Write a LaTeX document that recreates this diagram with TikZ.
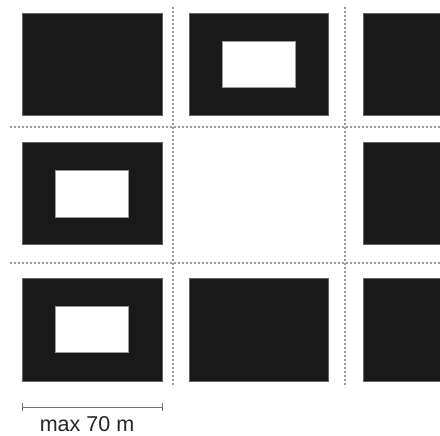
\documentclass[tikz,border=0pt]{standalone}
\usepackage{fontspec}
\setmainfont{Liberation Sans}
\begin{document}
\begin{tikzpicture}[x=1pt,y=-1pt,
  block/.style={draw=black!60,line width=0.4pt,fill=black!90,inner sep=0pt,anchor=north west},
  hole/.style={draw=black!40,line width=0.4pt,fill=white,inner sep=0pt,anchor=north west},
  grid/.style={draw=black!40,line width=2.2pt,dash pattern=on 2pt off 2pt},
  scalebar/.style={draw=black!55,line width=0.8pt}]
\useasboundingbox (0,0) rectangle (440,436);
\begin{scope}
\clip (0,0) rectangle (440,436);
% blocks
\node[block,minimum width=140pt,minimum height=102pt] (b11) at (22,13) {};
\node[block,minimum width=139pt,minimum height=102pt] (b12) at (189,13) {};
\node[block,minimum width=90pt,minimum height=102pt] (b13) at (363,13) {};
\node[block,minimum width=140pt,minimum height=102pt] (b21) at (22,142) {};
\node[block,minimum width=90pt,minimum height=102pt] (b23) at (363,142) {};
\node[block,minimum width=140pt,minimum height=103pt] (b31) at (22,278) {};
\node[block,minimum width=139pt,minimum height=103pt] (b32) at (189,278) {};
\node[block,minimum width=90pt,minimum height=103pt] (b33) at (363,278) {};
% courtyards
\node[hole,minimum width=73pt,minimum height=46pt] (h12) at (222,41) {};
\node[hole,minimum width=73pt,minimum height=47pt] (h21) at (55,170) {};
\node[hole,minimum width=73pt,minimum height=46pt] (h31) at (55,306) {};
% dotted grid
\coordinate (v1t) at (173,7); \coordinate (v1b) at (173,387);
\coordinate (v2t) at (345,7); \coordinate (v2b) at (345,387);
\coordinate (h1l) at (10,127); \coordinate (h1r) at (442,127);
\coordinate (h2l) at (10,263); \coordinate (h2r) at (442,263);
\draw[grid] (h1l) -- (h1r);
\draw[grid] (h2l) -- (h2r);
\draw[grid] (v1t) -- (v1b);
\draw[grid] (v2t) -- (v2b);
% scale bar
\coordinate (sl) at (22,407); \coordinate (sr) at (162,407);
\draw[scalebar] (sl) -- (sr);
\draw[scalebar] ([yshift=-4pt]sl) -- ([yshift=4pt]sl);
\draw[scalebar] ([yshift=-4pt]sr) -- ([yshift=4pt]sr);
\node[anchor=base,inner sep=0pt,font=\fontsize{21.5}{24}\selectfont,text=black!85] (lbl) at (87,431) {max 70 m};
\end{scope}
\end{tikzpicture}
\end{document}
